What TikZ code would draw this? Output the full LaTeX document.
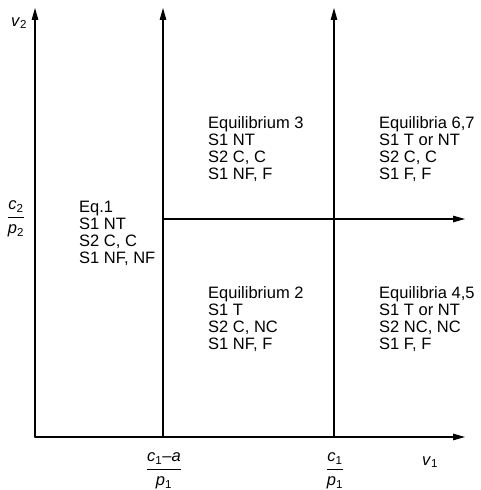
\documentclass[tikz,border=0pt]{standalone}
\usepackage{amsmath, amssymb}
\usepackage{fontspec}
\setmainfont{Liberation Sans}
\usepackage{tikz}
\usetikzlibrary{calc, arrows.meta}
\usepackage{tkz-euclide}

\tikzset{
  eqtext/.style={anchor=north west, align=left, inner sep=0pt, font=\fontsize{16.5}{17}\selectfont},
  axlabel/.style={inner sep=0pt, font=\fontsize{16.5}{17}\selectfont},
  axline/.style={black, line width=1.1pt, -{Triangle[length=12pt,width=6.5pt]}}
}

\begin{document}
\begin{tikzpicture}[x=1pt, y=1pt]
                \useasboundingbox (0,0) rectangle (481,490);
                \tkzDefPoints{35/53/O, 465/53/X, 35/482/Y, 163/53/A, 163/482/At, 334/53/B, 334/482/Bt, 163/271/H, 465/271/Ht}
                \tkzDrawSegments[axline](O,X O,Y A,At B,Bt H,Ht)
                \node[eqtext] (eq1) at (79,289) {Eq.1\\S1 NT\\S2 C, C\\S1 NF, NF};
                \node[eqtext] (eq3) at (208,374) {Equilibrium 3\\S1 NT\\S2 C, C\\S1 NF, F};
                \node[eqtext] (eq67) at (379,374) {Equilibria 6,7\\S1 T or NT\\S2 C, C\\S1 F, F};
                \node[eqtext] (eq2) at (208,204) {Equilibrium 2\\S1 T\\S2 C, NC\\S1 NF, F};
                \node[eqtext] (eq45) at (379,204) {Equilibria 4,5\\S1 T or NT\\S2 NC, NC\\S1 F, F};
                \node[axlabel] (v2) at (19,467) {\textit{v}\textsubscript{2}};
                \node[axlabel] (v1) at (430,28) {\textit{v}\textsubscript{1}};
                \node[axlabel] (cp2) at (16,271) {$\dfrac{\textit{c}\textsubscript{2}}{\textit{p}\textsubscript{2}}$};
                \node[axlabel] (cap1) at (164,19) {$\dfrac{\textit{c}\textsubscript{1}–\textit{a}}{\textit{p}\textsubscript{1}}$};
                \node[axlabel] (cp1) at (335,19) {$\dfrac{\textit{c}\textsubscript{1}}{\textit{p}\textsubscript{1}}$};
            \end{tikzpicture}
\end{document}
